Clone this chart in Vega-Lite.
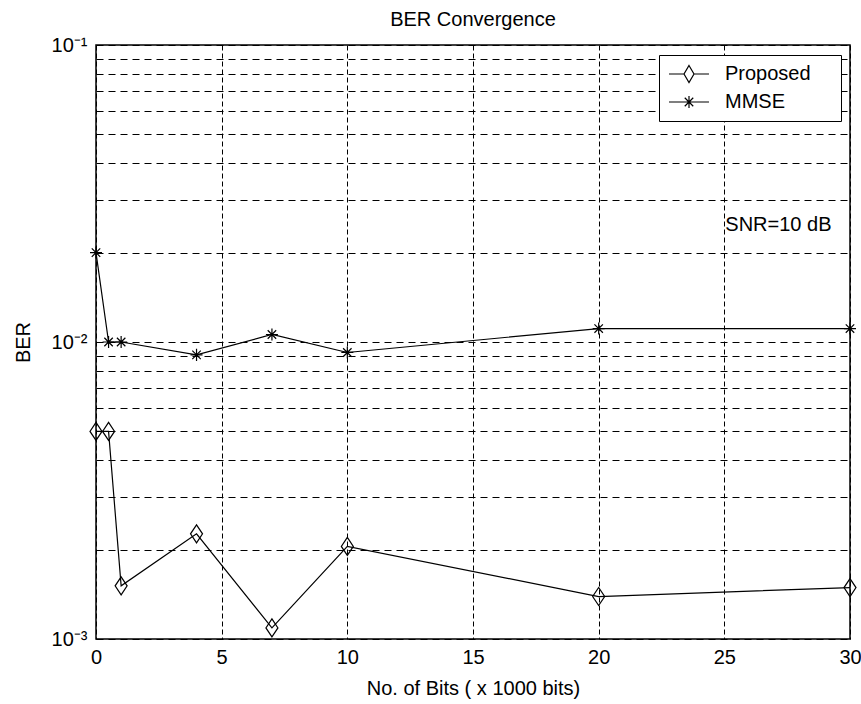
{
  "$schema": "https://vega.github.io/schema/vega-lite/v6.json",
  "width": 754,
  "height": 594,
  "autosize": {"type": "none"},
  "padding": {"left": 96, "top": 45, "right": 11, "bottom": 65},
  "background": "white",
  "config": {
    "font": "Liberation Sans",
    "view": {"stroke": "black", "strokeWidth": 1.5},
    "axis": {
      "labelFont": "Liberation Sans",
      "titleFont": "Liberation Sans",
      "labelFontSize": 20,
      "titleFontSize": 20,
      "labelColor": "black",
      "titleColor": "black",
      "titleFontWeight": "normal",
      "domain": false,
      "ticks": false,
      "gridColor": "black",
      "gridOpacity": 1,
      "gridWidth": 1
    },
    "legend": {"labelFont": "Liberation Sans", "labelFontSize": 20, "labelColor": "black"}
  },
  "title": {
    "text": "BER Convergence",
    "fontSize": 20,
    "fontWeight": "normal",
    "font": "Liberation Sans",
    "color": "black",
    "frame": "group",
    "anchor": "middle",
    "baseline": "alphabetic",
    "offset": -11
  },
  "resolve": {"scale": {"shape": "independent"}},
  "layer": [
    {
      "data": {
        "values": [
          {"bits": 0, "ber": 0.005, "series": "Proposed"},
          {"bits": 0.5, "ber": 0.005, "series": "Proposed"},
          {"bits": 1, "ber": 0.00151, "series": "Proposed"},
          {"bits": 4, "ber": 0.00226, "series": "Proposed"},
          {"bits": 7, "ber": 0.00109, "series": "Proposed"},
          {"bits": 10, "ber": 0.00205, "series": "Proposed"},
          {"bits": 20, "ber": 0.00139, "series": "Proposed"},
          {"bits": 30, "ber": 0.00149, "series": "Proposed"},
          {"bits": 0, "ber": 0.02, "series": "MMSE"},
          {"bits": 0.5, "ber": 0.01, "series": "MMSE"},
          {"bits": 1, "ber": 0.01, "series": "MMSE"},
          {"bits": 4, "ber": 0.00905, "series": "MMSE"},
          {"bits": 7, "ber": 0.0106, "series": "MMSE"},
          {"bits": 10, "ber": 0.00922, "series": "MMSE"},
          {"bits": 20, "ber": 0.0111, "series": "MMSE"},
          {"bits": 30, "ber": 0.0111, "series": "MMSE"}
        ]
      },
      "resolve": {"scale": {"shape": "independent"}},
      "layer": [
        {
          "mark": {"type": "line", "color": "black", "strokeWidth": 1.2},
          "encoding": {
            "x": {
              "field": "bits",
              "type": "quantitative",
              "scale": {"domain": [0, 30], "nice": false, "zero": false},
              "axis": {
                "title": "No. of Bits ( x 1000 bits)",
                "values": [0, 5, 10, 15, 20, 25, 30],
                "labelFlush": false,
                "labelPadding": 8,
                "gridDash": [5, 3],
                "titleX": 377,
                "titleY": 49,
                "titleBaseline": "middle"
              }
            },
            "y": {
              "field": "ber",
              "type": "quantitative",
              "scale": {"type": "log", "domain": [0.001, 0.1], "nice": false},
              "axis": {
                "title": "BER",
                "values": [0.001, 0.002, 0.003, 0.004, 0.005, 0.006, 0.007, 0.008, 0.009, 0.01, 0.02, 0.03, 0.04, 0.05, 0.06, 0.07, 0.08, 0.09, 0.1],
                "labelExpr": "abs(datum.value - 0.001) < 1e-9 ? '10⁻³' : abs(datum.value - 0.01) < 1e-9 ? '10⁻²' : abs(datum.value - 0.1) < 1e-9 ? '10⁻¹' : ''",
                "labelPadding": 9,
                "labelFlush": false,
                "labelOverlap": false,
                "gridDash": [7, 5],
                "titleX": -73,
                "titleY": 297,
                "titleAngle": -90,
                "titleAlign": "center",
                "titleBaseline": "middle"
              }
            },
            "detail": {"field": "series"}
          }
        },
        {
          "mark": {"type": "point", "filled": false, "color": "black", "strokeWidth": 1.2, "opacity": 1, "size": 324},
          "encoding": {
            "x": {"field": "bits", "type": "quantitative"},
            "y": {"field": "ber", "type": "quantitative"},
            "shape": {
              "field": "series",
              "type": "nominal",
              "scale": {
                "domain": ["Proposed", "MMSE"],
                "range": [
                  "M0,-1L0.667,0L0,1L-0.667,0Z",
                  "M-0.667,0L0.667,0M0,-0.667L0,0.667M-0.47,-0.47L0.47,0.47M-0.47,0.47L0.47,-0.47"
                ]
              },
              "legend": null
            }
          }
        },
        {
          "mark": {"type": "point", "filled": false, "color": "black", "strokeWidth": 1.2, "opacity": 0, "size": 324},
          "encoding": {
            "x": {"field": "bits", "type": "quantitative"},
            "y": {"field": "ber", "type": "quantitative"},
            "shape": {
              "field": "series",
              "type": "nominal",
              "scale": {
                "domain": ["Proposed", "MMSE"],
                "range": [
                  "M-1,0L0.667,0M1.778,0L3.444,0M1.222,-0.944L1.778,0L1.222,0.944L0.667,0Z",
                  "M-1,0L3.444,0M1.222,-0.667L1.222,0.667M0.75,-0.47L1.694,0.47M0.75,0.47L1.694,-0.47"
                ]
              },
              "legend": {
                "title": null,
                "orient": "none",
                "legendX": 563,
                "legendY": 10,
                "strokeColor": "black",
                "fillColor": "white",
                "padding": 9,
                "rowPadding": 7,
                "symbolSize": 324,
                "symbolOpacity": 1,
                "symbolStrokeColor": "black",
                "symbolFillColor": "transparent",
                "symbolStrokeWidth": 1.2,
                "labelOffset": 37,
                "labelExpr": "datum.label + '\u00a0\u2800'"
              }
            }
          }
        }
      ]
    },
    {
      "data": {"values": [{"bits": 25, "ber": 0.0248, "label": "SNR=10 dB"}]},
      "mark": {"type": "text", "align": "left", "baseline": "middle", "fontSize": 20, "font": "Liberation Sans", "color": "black", "dx": 1},
      "encoding": {
        "x": {"field": "bits", "type": "quantitative"},
        "y": {"field": "ber", "type": "quantitative"},
        "text": {"field": "label"}
      }
    }
  ]
}
